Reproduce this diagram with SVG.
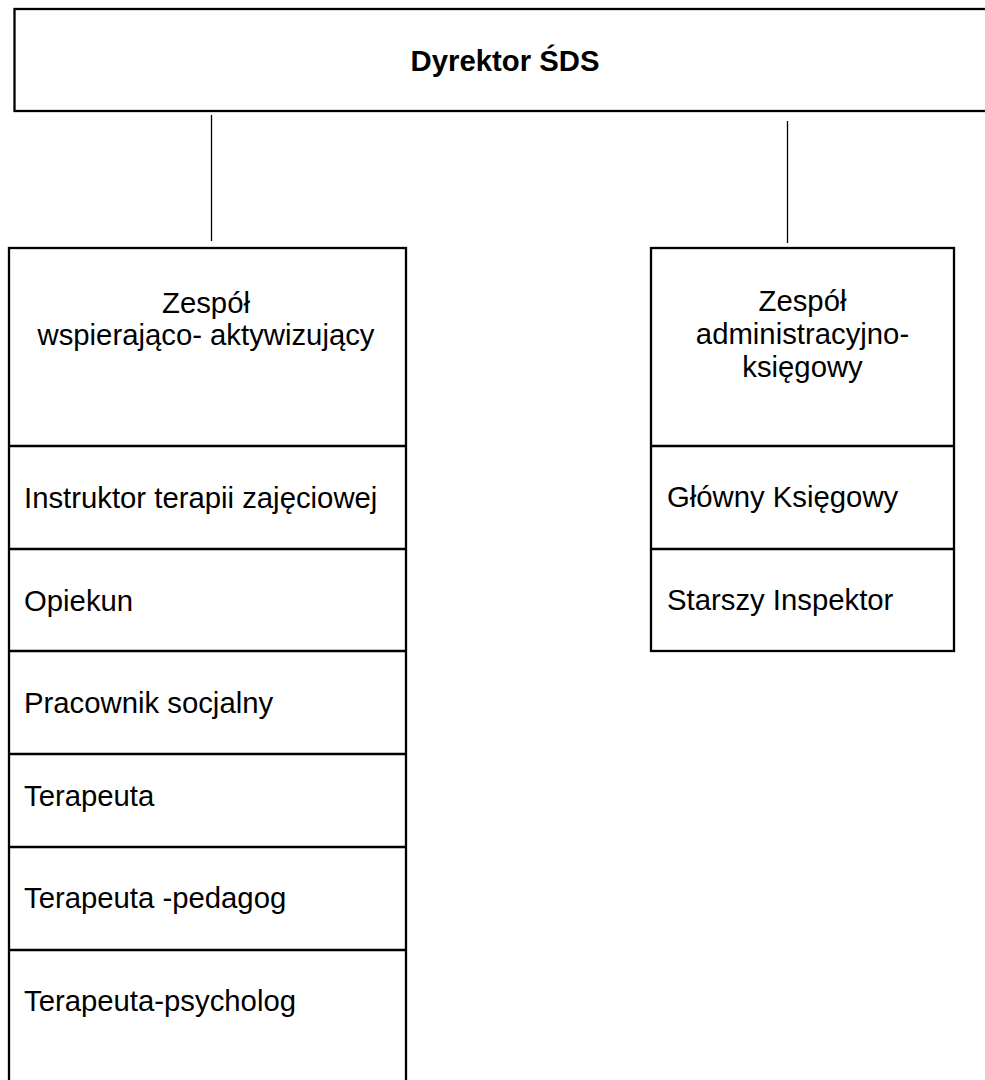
<svg xmlns="http://www.w3.org/2000/svg" width="985" height="1080" viewBox="0 0 985 1080">
<style>
.box{fill:#fff;stroke:#000;stroke-width:2.3}
.div{stroke:#000;stroke-width:2.3}
.conn{stroke:#000;stroke-width:1.3}
text{font-family:"Liberation Sans",Arial,sans-serif;font-size:29.3px;fill:#000}
.b{font-weight:bold}
.c{text-anchor:middle}
</style>
<rect width="985" height="1080" fill="#fff"/>
<g id="connectors">
<line class="conn" x1="211.5" y1="115" x2="211.5" y2="241"/>
<line class="conn" x1="787.5" y1="121" x2="787.5" y2="243"/>
</g>
<g id="dyrektor">
<rect class="box" x="14.5" y="9" width="981" height="102"/>
<text class="b c" x="505" y="71">Dyrektor ŚDS</text>
</g>
<g id="zespol-wspierajaco">
<rect class="box" x="9" y="248" width="397" height="860"/>
<text class="c" x="206" y="313">Zespół</text>
<text class="c" x="206" y="345">wspierająco- aktywizujący</text>
<line class="div" x1="9" y1="446" x2="406" y2="446"/>
<line class="div" x1="9" y1="549" x2="406" y2="549"/>
<line class="div" x1="9" y1="651" x2="406" y2="651"/>
<line class="div" x1="9" y1="754" x2="406" y2="754"/>
<line class="div" x1="9" y1="847" x2="406" y2="847"/>
<line class="div" x1="9" y1="950" x2="406" y2="950"/>
<text x="24" y="508">Instruktor terapii zajęciowej</text>
<text x="24" y="611">Opiekun</text>
<text x="24" y="713">Pracownik socjalny</text>
<text x="24" y="806">Terapeuta</text>
<text x="24" y="908">Terapeuta -pedagog</text>
<text x="24" y="1011">Terapeuta-psycholog</text>
</g>
<g id="zespol-administracyjny">
<rect class="box" x="651" y="248" width="303" height="403"/>
<text class="c" x="802.5" y="311">Zespół</text>
<text class="c" x="802.5" y="344">administracyjno-</text>
<text class="c" x="802.5" y="377">księgowy</text>
<line class="div" x1="651" y1="446" x2="954" y2="446"/>
<line class="div" x1="651" y1="549" x2="954" y2="549"/>
<text x="667" y="507">Główny Księgowy</text>
<text x="667" y="610">Starszy Inspektor</text>
</g>
</svg>
